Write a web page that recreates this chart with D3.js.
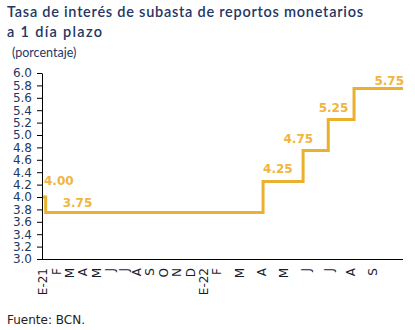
<!DOCTYPE html>
<html><head><meta charset="utf-8">
<script src="https://cdn.jsdelivr.net/npm/d3@7"></script>
<style>body{margin:0;background:#fff}svg{display:block}</style>
</head><body><svg id="c" width="415" height="330"></svg>
<script>
// month labels (index 0 = Jan 2021)
const monthLabels = ["E-21","F","M","A","M","J","J","A","S","O","N","D","E-22","F","M","A","M","J","J","A","S"];
// rate changes: start month-index (fractional) and rate
const changeAt = [0, 0.2, 15.07, 16.87, 18.0, 19.16];
const rates = [4.00, 3.75, 4.25, 4.75, 5.25, 5.75];
const endAt = 21.36;
const yTicks = [3.0,3.2,3.4,3.6,3.8,4.0,4.2,4.4,4.6,4.8,5.0,5.2,5.4,5.6,5.8,6.0];

// layout for value labels: [anchor, dx, dy] relative to step start point
const labelLayout = [["start",1,-12],["start",17,-6],["start",0,-9],["end",10,-8],["end",20,-8],["end",null,-3.5]];

const svg = d3.select("#c");
const x = d3.scaleLinear().domain([0, 13, endAt]).range([43, 217, 403]);
const y = d3.scaleLinear().domain([3, 6]).range([259, 73]);

const navy = "#1F3864";
// title
svg.append("text").attr("x",7).attr("y",17).attr("font-family","Lato, 'Open Sans', sans-serif")
  .attr("font-size",14.5).attr("font-weight",600).attr("fill",navy)
  .attr("textLength",356).attr("lengthAdjust","spacing")
  .text("Tasa de interés de subasta de reportos monetarios");
svg.append("text").attr("x",7).attr("y",37).attr("font-family","Lato, 'Open Sans', sans-serif")
  .attr("font-size",14.5).attr("font-weight",600).attr("fill",navy)
  .attr("textLength",95).attr("lengthAdjust","spacing")
  .text("a 1 día plazo");
svg.append("text").attr("x",12).attr("y",57).attr("font-family","Lato, 'Open Sans', sans-serif")
  .attr("font-size",12.5).attr("fill",navy).text("(porcentaje)");

// y axis
const yAxis = d3.axisLeft(y).tickValues(yTicks).tickFormat(d3.format(".1f")).tickSize(5).tickSizeOuter(0).tickPadding(5);
const gy = svg.append("g").attr("transform","translate(42,0)").call(yAxis);
gy.selectAll("text").attr("font-family","'DejaVu Sans', Verdana, sans-serif").attr("font-size",12).attr("fill",navy);
gy.selectAll("line,path").attr("stroke","#000");

// x axis line
svg.append("line").attr("x1",42).attr("x2",403).attr("y1",y(3)+0.5).attr("y2",y(3)+0.5).attr("stroke","#000");

// x labels
svg.append("g").selectAll("text").data(monthLabels).join("text")
  .attr("transform",(d,i)=>`translate(${x(i)},268) rotate(-90)`)
  .attr("text-anchor","end").attr("dy","0.36em")
  .attr("font-family","'DejaVu Sans', Verdana, sans-serif").attr("font-size",12).attr("fill","#1a1a2e")
  .text(d=>d);

// step line
const pts = changeAt.map((c,i)=>[c, rates[i]]).concat([[endAt, rates[rates.length-1]]]);
svg.append("path").datum(pts)
  .attr("d", d3.line().x(d=>x(d[0])).y(d=>y(d[1])).curve(d3.curveStepAfter))
  .attr("fill","none").attr("stroke","#EBB02D").attr("stroke-width",3);

// value labels
svg.append("g").selectAll("text").data(rates).join("text")
  .attr("x",(d,i)=> labelLayout[i][1]===null ? x(endAt)+1 : x(changeAt[i])+labelLayout[i][1])
  .attr("y",(d,i)=> y(d)+labelLayout[i][2])
  .attr("text-anchor",(d,i)=>labelLayout[i][0])
  .attr("font-family","'DejaVu Sans', Verdana, sans-serif").attr("font-size",12).attr("font-weight","bold")
  .attr("fill","#F0B540").text(d=>d.toFixed(2));

// source
svg.append("text").attr("x",7).attr("y",324).attr("font-family","'DejaVu Sans', Verdana, sans-serif")
  .attr("font-size",12).attr("fill","#222").text("Fuente: BCN.");
</script></body></html>
